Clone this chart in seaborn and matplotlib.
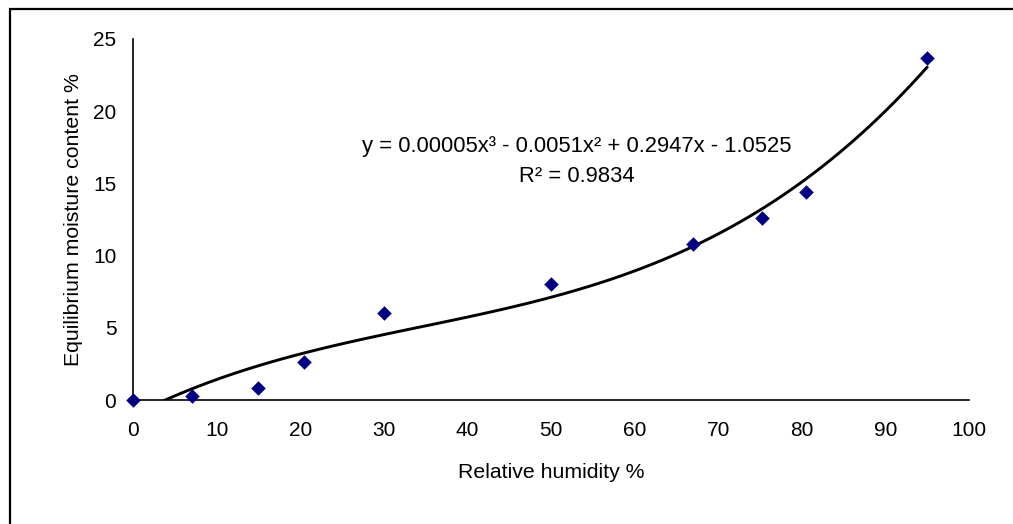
import numpy as np
import pandas as pd
import matplotlib
matplotlib.use("Agg")
import matplotlib.pyplot as plt
from matplotlib.patches import Rectangle
import seaborn as sns

# ---- data ----
relative_humidity = [0, 7, 15, 20.5, 30, 50, 67, 75.2, 80.5, 95]
moisture_content = [0, 0.3, 0.8, 2.6, 6.0, 8.0, 10.8, 12.6, 14.4, 23.7]
x_ticks = [0, 10, 20, 30, 40, 50, 60, 70, 80, 90, 100]
y_ticks = [0, 5, 10, 15, 20, 25]
x_label = "Relative humidity %"
y_label = "Equilibrium moisture content %"
equation_text = "y = 0.00005x³ - 0.0051x² + 0.2947x - 1.0525"
r2_text = "R² = 0.9834"

df = pd.DataFrame({"rh": relative_humidity, "emc": moisture_content})

sns.set_style("white")
plt.rcParams["font.family"] = ["Liberation Sans", "DejaVu Sans"]
FS = 15.0

fig = plt.figure(figsize=(10.13, 5.24), dpi=100)
ax = fig.add_axes([133 / 1013, 1 - 400 / 524, (969 - 133) / 1013, (400 - 39) / 524])

# polynomial (order 3) trendline fitted from the data
sns.regplot(data=df, x="rh", y="emc", order=3, ci=None, scatter=False,
            line_kws={"color": "black", "linewidth": 2.1}, ax=ax)
sns.scatterplot(data=df, x="rh", y="emc", marker="D", s=55, color="#000080",
                edgecolor="#000080", linewidth=0, ax=ax, clip_on=False, zorder=5)

ax.set_xlim(0, 100)
ax.set_ylim(0, 25)
ax.set_xticks(x_ticks)
ax.set_yticks(y_ticks)
ax.tick_params(axis="both", direction="out", length=4, width=1.2, colors="black",
               labelsize=FS)
ax.tick_params(axis="x", pad=11)
ax.tick_params(axis="y", pad=8)
ax.set_xlabel(x_label, fontsize=15.3, labelpad=17, color="black")
ax.set_ylabel(y_label, fontsize=15.3, labelpad=7, color="black")
for s in ["top", "right"]:
    ax.spines[s].set_visible(False)
for s in ["left", "bottom"]:
    ax.spines[s].set_color("black")
    ax.spines[s].set_linewidth(1.2)
ax.set_facecolor("white")

ax.text(0.531, 0.701, equation_text, transform=ax.transAxes, ha="center",
        va="center", fontsize=15.8, color="black")
ax.text(0.531, 0.618, r2_text, transform=ax.transAxes, ha="center",
        va="center", fontsize=15.8, color="black")

# outer chart frame (left and top edges visible)
fig.patches.append(Rectangle((10 / 1013, -0.1), 1.2, 1 - 9 / 524 + 0.1,
                             transform=fig.transFigure, fill=False,
                             edgecolor="black", linewidth=1.6))

fig.savefig("out.png", dpi=100, facecolor="white")
